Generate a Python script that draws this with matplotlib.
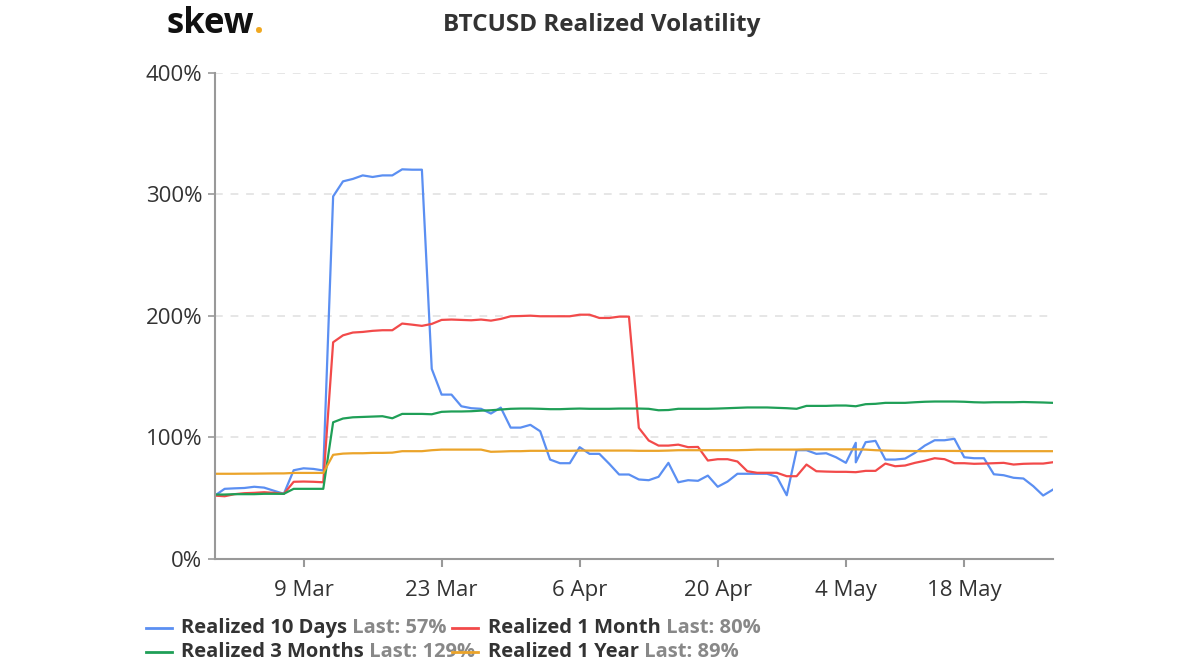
import matplotlib
matplotlib.use("Agg")
import matplotlib.pyplot as plt
from matplotlib.lines import Line2D

plt.rcParams['font.family'] = ['Open Sans', 'DejaVu Sans']

# observation index (one per sample shown on the axis)
obs = list(range(86))
# the 10 day series has two doubled samples (at 0 and 65)
obs_10d = [0] + list(range(0, 66)) + [65] + list(range(66, 86))

tick_obs = [9, 23, 37, 51, 64, 76]
tick_labels = ['9 Mar', '23 Mar', '6 Apr', '20 Apr', '4 May', '18 May']

vol_10d = [62, 52, 57.6, 58, 58.3, 59.3, 58.6, 56, 53.5, 72.9, 74.5, 74, 72.7,
           298.4, 310.8, 312.8, 315.7, 314.4, 315.7, 315.7, 320.7, 320.4, 320.4,
           156.4, 135.2, 135.2, 125.6, 124, 123.5, 119.6, 124.5, 108, 108, 110.3,
           105, 81.7, 78.7, 78.7, 91.9, 86.4, 86.4, 78.2, 69.4, 69.4, 65.3, 64.7,
           67.5, 79, 63, 64.7, 64.2, 68.5, 59.3, 63.6, 70, 70, 70, 70, 67.5, 52.3,
           89.4, 89.4, 86.4, 86.9, 83.6, 79, 95.5, 79.4, 96, 97.1, 81.7, 81.7,
           82.5, 87.2, 93.2, 97.6, 97.6, 98.8, 83.6, 82.8, 82.8, 69.6, 68.8, 66.7,
           66.1, 59.8, 52.1, 57]

vol_1m = [52, 51.5, 53.2, 54, 54.3, 54.8, 54.3, 53.5, 63.4, 63.6, 63.4, 63,
          178.3, 184, 186.3, 186.8, 187.7, 188.2, 188.2, 193.7, 192.8, 191.8, 193.4,
          196.7, 197, 196.7, 196.4, 197, 196.1, 197.5, 199.7, 199.9, 200.2, 199.7,
          199.7, 199.7, 199.7, 201, 201, 198.3, 198.3, 199.4, 199.4, 107.8, 97.4,
          93.2, 93.2, 94, 91.9, 92.1, 80.9, 82, 82, 80.1, 72.1, 70.8, 70.8, 70.8,
          68, 68, 77.6, 72.1, 71.8, 71.6, 71.6, 71.3, 72.4, 72.4, 78.4, 76.2, 76.8,
          79, 80.7, 82.8, 82, 78.7, 78.7, 78.2, 78.4, 78.7, 79, 77.6, 78.2, 78.4,
          78.4, 79.5]

vol_3m = [52.9, 52.9, 53.2, 53.2, 53.2, 53.5, 53.5, 53.5, 57.6, 57.6, 57.6, 57.6,
          112.4, 115.5, 116.5, 116.8, 117.1, 117.4, 115.7, 119.3, 119.3, 119.3, 119,
          121, 121.3, 121.3, 121.5, 122, 122.3, 122.9, 123.5, 123.7, 123.7, 123.5,
          123.2, 123.2, 123.5, 123.7, 123.5, 123.5, 123.5, 123.7, 123.7, 123.7,
          123.5, 122.3, 122.5, 123.5, 123.5, 123.5, 123.5, 123.7, 124, 124.3, 124.6,
          124.6, 124.6, 124.3, 124, 123.5, 125.9, 125.9, 125.9, 126.2, 126.2, 125.6,
          127.3, 127.6, 128.4, 128.4, 128.4, 128.9, 129.3, 129.5, 129.5, 129.5,
          129.3, 128.9, 128.7, 128.9, 128.9, 128.9, 129.1, 128.9, 128.7, 128.4]

vol_1y = [70, 70, 70, 70.1, 70.1, 70.2, 70.3, 70.3, 70.7, 70.7, 70.7, 70.7,
          85.6, 86.6, 86.9, 86.9, 87.2, 87.2, 87.4, 88.6, 88.6, 88.6, 89.4, 89.9,
          89.9, 89.9, 89.9, 89.9, 88.1, 88.3, 88.6, 88.6, 88.9, 88.9, 88.9, 88.9,
          88.9, 89.1, 89.1, 89.1, 89.1, 89.1, 89.1, 88.9, 88.9, 88.9, 89.1, 89.4,
          89.4, 89.4, 89.4, 89.4, 89.4, 89.4, 89.6, 89.9, 89.9, 89.9, 89.9, 89.9,
          90.1, 90.1, 90.1, 90.1, 90.1, 90.1, 89.9, 89.4, 89.1, 88.9, 88.8, 88.7,
          88.6, 88.9, 88.8, 88.8, 88.7, 88.7, 88.7, 88.6, 88.6, 88.6, 88.6, 88.6,
          88.6, 88.6]

names = ['Realized 10 Days', 'Realized 1 Month', 'Realized 3 Months', 'Realized 1 Year']
last_vals = ['57%', '80%', '129%', '89%']
colors = ['#5b8ff2', '#f24a4a', '#1f9f57', '#eba42a']

fig = plt.figure(figsize=(12, 6.7), dpi=100)
ax = fig.add_axes([0.179, 0.166, 0.6985, 0.725])

series = [(obs_10d, vol_10d), (obs, vol_1m), (obs, vol_3m), (obs, vol_1y)]
for (xs, ys), c in zip(series, colors):
    ax.plot(xs, ys, color=c, lw=1.6, solid_joinstyle='round')

ax.set_xlim(0, 85)
ax.set_ylim(0, 400)
ax.set_yticks([0, 100, 200, 300, 400])
ax.set_yticklabels(['0%', '100%', '200%', '300%', '400%'])
ax.set_xticks(tick_obs)
ax.set_xticklabels(tick_labels)

for v in [100, 200, 300, 400]:
    ax.axhline(v, color='#e6e6e6', lw=1.4, ls=(0, (4, 4)), zorder=0)

for s in ['top', 'right']:
    ax.spines[s].set_visible(False)
for s in ['left', 'bottom']:
    ax.spines[s].set_color('#999999')
    ax.spines[s].set_linewidth(1.5)
ax.tick_params(axis='y', length=5, width=1.2, color='#999999', pad=4,
               labelsize=16, labelcolor='#333333')
ax.tick_params(axis='x', length=6, width=1.5, color='#999999', pad=9,
               labelsize=16, labelcolor='#333333')

fig.text(0.501, 0.962, 'BTCUSD Realized Volatility', ha='center', va='center',
         fontsize=17.5, fontweight='bold', color='#333333')

logo = fig.text(0.139, 0.964, 'skew', ha='left', va='center', fontsize=25,
                fontweight='bold', color='#111111')
ax.annotate('.', xy=(1, 0), xycoords=logo, ha='left', va='bottom',
            fontsize=25, fontweight='bold', color='#f0a820')

# legend, two columns by two rows
col_x = [(146, 172, 181), (452, 478, 488)]
row_y = [628, 652]
W, H = 1200, 670
for i, (name, last, c) in enumerate(zip(names, last_vals, colors)):
    hx0, hx1, tx = col_x[i % 2]
    y = 1 - row_y[i // 2] / H
    t = fig.text(tx / W, y, name, ha='left', va='center', fontsize=14.5,
                 fontweight='bold', color='#333333')
    ax.annotate(' Last: ' + last, xy=(1, 0.5), xycoords=t, ha='left', va='center',
                fontsize=14.5, fontweight='bold', color='#888888')
    fig.add_artist(Line2D([hx0 / W, hx1 / W], [y, y], color=c, lw=2,
                          transform=fig.transFigure))

fig.savefig('out.png', dpi=100)
